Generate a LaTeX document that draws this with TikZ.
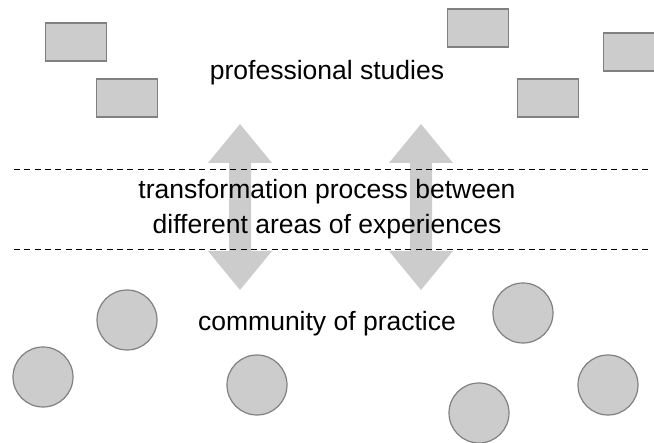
\documentclass[tikz,border=0pt]{standalone}
\usepackage{fontspec}
\setmainfont{Liberation Sans}
\begin{document}
\begin{tikzpicture}[x=1pt,y=-1pt,
  box/.style={draw=black!50,fill=black!20,line width=1.2pt,minimum width=61pt,minimum height=38pt,inner sep=0pt},
  ball/.style={circle,draw=black!50,fill=black!20,line width=1.2pt,minimum size=60pt,inner sep=0pt},
  dblarrow/.style={fill=black!20,draw=none},
  sep/.style={line width=1.3pt,dash pattern=on 6pt off 4.3pt},
  label/.style={font=\fontsize{26.5}{35}\selectfont,align=center,inner sep=0pt}]
\useasboundingbox (0,0) rectangle (654,443);
% rectangles
\node[box] (r1) at (76,42) {};
\node[box] (r2) at (127,98) {};
\node[box] (r3) at (478,28) {};
\node[box] (r4) at (548,98) {};
\node[box] (r5) at (634,52) {};
% circles
\node[ball] (c1) at (127,320) {};
\node[ball] (c2) at (43,377) {};
\node[ball] (c3) at (257,385) {};
\node[ball] (c4) at (523,313) {};
\node[ball] (c5) at (479,413) {};
\node[ball] (c6) at (608,385) {};
% double arrows
\foreach \cx in {240,421}{
  \fill[dblarrow] (\cx,124) -- (\cx+32,163) -- (\cx+11,163) -- (\cx+11,251) -- (\cx+32,251)
    -- (\cx,290) -- (\cx-32,251) -- (\cx-11,251) -- (\cx-11,163) -- (\cx-32,163) -- cycle;
}
% dashed lines
\coordinate (l1a) at (14,169.5);
\coordinate (l1b) at (648,169.5);
\coordinate (l2a) at (14,249.5);
\coordinate (l2b) at (648,249.5);
\draw[sep] (l1a) -- (l1b);
\draw[sep] (l2a) -- (l2b);
% texts
\node[label] (top) at (327,73) {professional studies};
\node[label] (mid) at (327,209.5) {transformation process between\\different areas of experiences};
\node[label] (bot) at (327,324) {community of practice};
\end{tikzpicture}
\end{document}
